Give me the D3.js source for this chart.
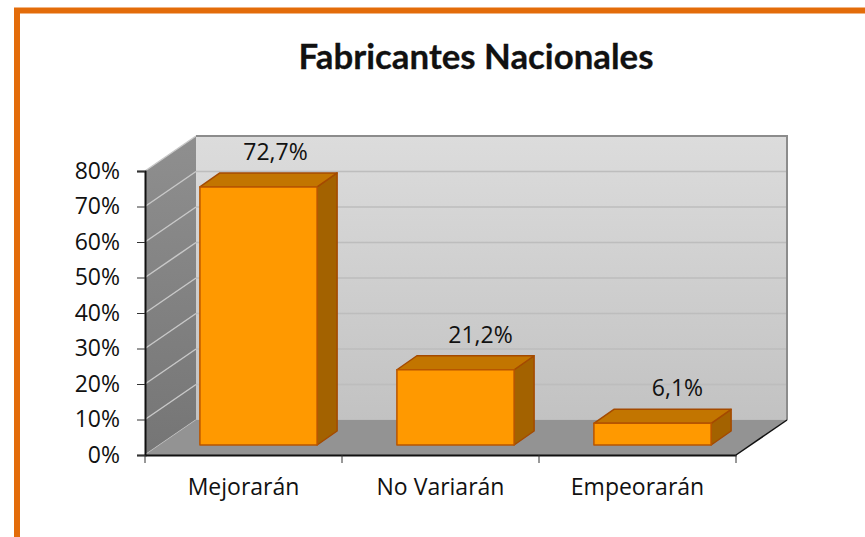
<!DOCTYPE html>
<html>
<head>
<meta charset="utf-8">
<script src="https://cdn.jsdelivr.net/npm/d3@7"></script>
<style>
  html, body { margin: 0; padding: 0; background: #fff; }
  svg { display: block; }
  text { font-family: "Open Sans", Lato, sans-serif; fill: #111; }
</style>
</head>
<body>
<div id="chart"></div>
<script>
const categories = ['Mejorarán', 'No Variarán', 'Empeorarán'];
const values = [72.7, 21.2, 6.1];
const valueLabels = ['72,7%', '21,2%', '6,1%'];
const yTicks = [0, 10, 20, 30, 40, 50, 60, 70, 80];

const w = 865;
const h = 537;

// plot front plane
const plotLeft = 145, plotRight = 736, plotTop = 171, plotBottom = 455;
// depth of the 3d box, and where the bars sit inside it
const wallDx = 51, wallDy = -35;
const barDx = 15, barDy = -10;
const depthDx = 20, depthDy = -14;
// data labels were moved by hand in the original
const labelNudge = [17, 25, 25];

const xScale = d3.scaleBand().domain(categories).range([plotLeft, plotRight])
  .paddingInner(0.405).paddingOuter(0.2025);
const cellScale = d3.scaleBand().domain(categories).range([plotLeft, plotRight]);
const yScale = d3.scaleLinear().domain([0, 80]).range([plotBottom, plotTop]);

const svg = d3.select('#chart').append('svg')
  .attr('width', w)
  .attr('height', h);

const defs = svg.append('defs');
function gradient(id, c1, c2) {
  const g = defs.append('linearGradient').attr('id', id)
    .attr('x1', 0).attr('y1', 0).attr('x2', 0).attr('y2', 1);
  g.append('stop').attr('offset', '0%').attr('stop-color', c1);
  g.append('stop').attr('offset', '100%').attr('stop-color', c2);
}
gradient('backWall', '#dcdcdc', '#c2c2c2');
gradient('sideWall', '#8f8f8f', '#757575');

const poly = (pts) => pts.map(p => p.join(',')).join(' ');

// orange frame, only top and left are in the picture
svg.append('path')
  .attr('d', `M${w},10.5 H17 V${h}`)
  .attr('fill', 'none')
  .attr('stroke', '#e36c0a')
  .attr('stroke-width', 6);

// walls and floor
svg.append('polygon')
  .attr('points', poly([[plotLeft + wallDx, plotTop + wallDy], [plotRight + wallDx, plotTop + wallDy], [plotRight + wallDx, plotBottom + wallDy], [plotLeft + wallDx, plotBottom + wallDy]]))
  .attr('fill', 'url(#backWall)');
svg.append('polygon')
  .attr('points', poly([[plotLeft, plotTop], [plotLeft + wallDx, plotTop + wallDy], [plotLeft + wallDx, plotBottom + wallDy], [plotLeft, plotBottom]]))
  .attr('fill', 'url(#sideWall)');

// gridlines, brighter on the side wall
svg.append('g').selectAll('line')
  .data(yTicks)
  .enter()
  .append('line')
  .attr('x1', plotLeft + wallDx).attr('x2', plotRight + wallDx)
  .attr('y1', d => yScale(d) + wallDy).attr('y2', d => yScale(d) + wallDy)
  .attr('stroke', '#bdbdbd')
  .attr('stroke-width', 1.5);
svg.append('g').selectAll('line')
  .data(yTicks)
  .enter()
  .append('line')
  .attr('x1', plotLeft).attr('x2', plotLeft + wallDx)
  .attr('y1', d => yScale(d)).attr('y2', d => yScale(d) + wallDy)
  .attr('stroke', '#c8c8c8')
  .attr('stroke-width', 1.5);

// wall edges
svg.append('polyline')
  .attr('points', poly([[plotLeft + wallDx, plotTop + wallDy], [plotRight + wallDx, plotTop + wallDy], [plotRight + wallDx, plotBottom + wallDy]]))
  .attr('fill', 'none')
  .attr('stroke', '#8c8c8c')
  .attr('stroke-width', 2);

svg.append('polygon')
  .attr('points', poly([[plotLeft, plotBottom], [plotLeft + wallDx, plotBottom + wallDy], [plotRight + wallDx, plotBottom + wallDy], [plotRight, plotBottom]]))
  .attr('fill', '#939393');

// bars
const bars = svg.append('g').selectAll('g')
  .data(values)
  .enter()
  .append('g')
  .attr('stroke', '#a44a00')
  .attr('stroke-width', 1.5)
  .attr('stroke-linejoin', 'round');

const bx = (i) => xScale(categories[i]) + barDx;
const by = (d) => yScale(d) + barDy;
const bw = xScale.bandwidth();
const base = yScale(0) + barDy;

bars.append('polygon')
  .attr('fill', '#a36200')
  .attr('points', (d, i) => poly([[bx(i) + bw, by(d)], [bx(i) + bw + depthDx, by(d) + depthDy], [bx(i) + bw + depthDx, base + depthDy], [bx(i) + bw, base]]));
bars.append('polygon')
  .attr('fill', '#c27500')
  .attr('points', (d, i) => poly([[bx(i), by(d)], [bx(i) + depthDx, by(d) + depthDy], [bx(i) + bw + depthDx, by(d) + depthDy], [bx(i) + bw, by(d)]]));
bars.append('rect')
  .attr('fill', '#ff9900')
  .attr('stroke', '#b85500')
  .attr('x', (d, i) => bx(i))
  .attr('y', d => by(d))
  .attr('width', bw)
  .attr('height', d => base - by(d));

// data labels
svg.append('g').selectAll('text')
  .data(values)
  .enter()
  .append('text')
  .attr('x', (d, i) => bx(i) + bw / 2 + labelNudge[i])
  .attr('y', d => by(d) - 27)
  .attr('text-anchor', 'middle')
  .attr('font-size', 23)
  .text((d, i) => valueLabels[i]);

// axes
const yAxis = d3.axisLeft(yScale)
  .tickValues(yTicks)
  .tickFormat(d => d + '%')
  .tickSize(8)
  .tickPadding(17);
const yG = svg.append('g')
  .attr('id', 'y-axis')
  .attr('transform', `translate(${plotLeft},0)`)
  .call(yAxis);
yG.selectAll('text').attr('font-size', 23);
yG.selectAll('line').attr('stroke', '#333').attr('stroke-width', 1);
yG.select('.domain').attr('stroke', '#111').attr('stroke-width', 2);

const xAxis = d3.axisBottom(cellScale).tickSize(0).tickPadding(24);
const xG = svg.append('g')
  .attr('id', 'x-axis')
  .attr('transform', `translate(0,${plotBottom})`)
  .call(xAxis);
xG.selectAll('text').attr('font-size', 23);
xG.select('.domain').attr('stroke', '#111').attr('stroke-width', 2);

// x ticks sit between the categories
const xEdges = categories.map(c => cellScale(c)).concat([plotRight]);
xG.selectAll('.edge')
  .data(xEdges)
  .enter()
  .append('line')
  .attr('class', 'edge')
  .attr('x1', d => d).attr('x2', d => d)
  .attr('y1', 0).attr('y2', 8)
  .attr('stroke', '#333')
  .attr('stroke-width', 1);

// front right edge of the floor
svg.append('line')
  .attr('x1', plotRight).attr('y1', plotBottom)
  .attr('x2', plotRight + wallDx).attr('y2', plotBottom + wallDy)
  .attr('stroke', '#111')
  .attr('stroke-width', 1.5);

svg.append('text')
  .attr('x', 476)
  .attr('y', 69)
  .attr('text-anchor', 'middle')
  .style('font-family', 'Lato')
  .attr('font-size', 34.8)
  .attr('font-weight', 700)
  .attr('stroke', '#111')
  .attr('stroke-width', 0.3)
  .text('Fabricantes Nacionales');
</script>
</body>
</html>
